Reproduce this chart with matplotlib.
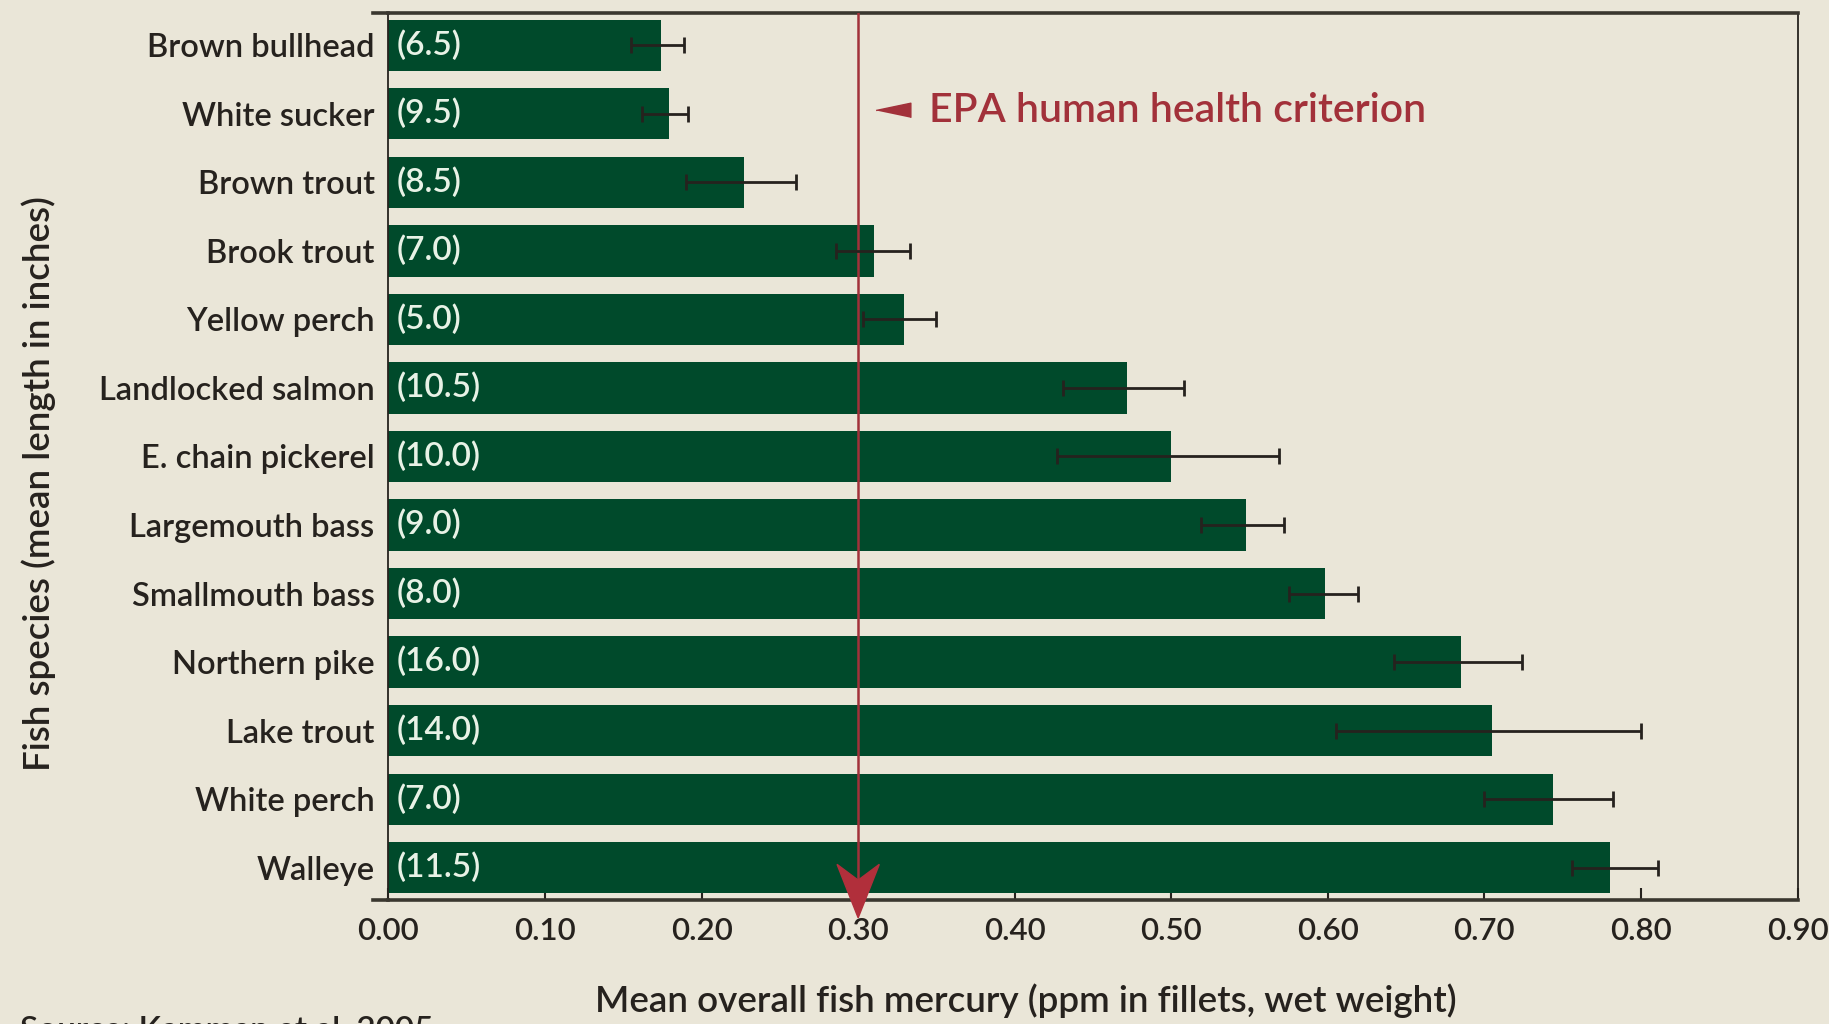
import matplotlib.pyplot as plt
from matplotlib.patches import Polygon
from matplotlib.lines import Line2D
import numpy as np

# Mean fish mercury by species (ppm, wet weight) with error bar ends
species = ["Brown bullhead", "White sucker", "Brown trout", "Brook trout",
           "Yellow perch", "Landlocked salmon", "E. chain pickerel",
           "Largemouth bass", "Smallmouth bass", "Northern pike",
           "Lake trout", "White perch", "Walleye"]
lengths = ["(6.5)", "(9.5)", "(8.5)", "(7.0)", "(5.0)", "(10.5)", "(10.0)",
           "(9.0)", "(8.0)", "(16.0)", "(14.0)", "(7.0)", "(11.5)"]
mercury = [0.174, 0.179, 0.227, 0.310, 0.329, 0.472, 0.500,
           0.548, 0.598, 0.685, 0.705, 0.744, 0.780]
err_low = [0.155, 0.162, 0.190, 0.286, 0.303, 0.431, 0.427,
           0.519, 0.575, 0.642, 0.605, 0.700, 0.756]
err_high = [0.189, 0.191, 0.260, 0.333, 0.350, 0.508, 0.569,
            0.572, 0.619, 0.724, 0.800, 0.782, 0.811]
criterion = 0.30
xticks = [0.0, 0.1, 0.2, 0.3, 0.4, 0.5, 0.6, 0.7, 0.8, 0.9]

BG = "#EAE6D8"
GREEN = "#004A2B"
RED = "#A2313A"
INK = "#26221E"
WT = "semibold"

plt.rcParams["font.family"] = ["Lato", "DejaVu Sans"]

fig = plt.figure(figsize=(18.29, 10.24), dpi=100, facecolor=BG)
ax = fig.add_axes([0.2124, 0.1211, 0.7704, 0.8662], facecolor=BG)

y = np.arange(len(species))
vals = np.array(mercury)
xerr = np.vstack([vals - np.array(err_low), np.array(err_high) - vals])

ax.barh(y, vals, height=0.75, color=GREEN, zorder=2)
ax.axvline(criterion, color=RED, lw=1.8, zorder=3)
ax.errorbar(vals, y, xerr=xerr, fmt="none", ecolor=INK, elinewidth=2,
            capsize=6, capthick=2, zorder=4)

for yi, lab in zip(y, lengths):
    ax.annotate(lab, (0, yi), xytext=(6, 0), textcoords="offset points",
                ha="left", va="center", fontsize=24, color="#E8F2E6",
                fontweight=WT, zorder=5)

ax.set_xlim(0, 0.9)
ax.set_ylim(12.47, -0.47)
ax.set_yticks(y)
ax.set_yticklabels(species, fontsize=23.5, color=INK, fontweight=WT)
ax.set_xticks(xticks)
ax.set_xticklabels([f"{t:.2f}" for t in xticks], fontsize=22.5, color=INK,
                   fontweight=WT)
ax.tick_params(axis="y", length=0, pad=10)
ax.tick_params(axis="x", direction="in", length=9, width=1.5, color=INK, pad=12)

for side in ["left", "right"]:
    ax.spines[side].set_linewidth(1.3)
    ax.spines[side].set_color(INK)
for side in ["top", "bottom"]:
    ax.spines[side].set_linewidth(2.6)
    ax.spines[side].set_color("#3A372F")
    yy = 1 if side == "top" else 0
    ax.add_line(Line2D([-0.011, 0], [yy, yy], transform=ax.transAxes,
                       color="#3A372F", lw=2.6, clip_on=False))

ax.set_xlabel("Mean overall fish mercury (ppm in fillets, wet weight)",
              fontsize=26.5, color=INK, fontweight=WT)
ax.xaxis.set_label_coords(0.452, -0.094)
ax.set_ylabel("Fish species (mean length in inches)", fontsize=26.5,
              color=INK, fontweight=WT)
ax.yaxis.set_label_coords(-0.236, 0.469)

# criterion arrowhead at the foot of the red line
c = criterion
head = Polygon([(c - 0.0135, 11.95), (c, 12.18), (c + 0.0135, 11.95),
                (c, 12.73)], closed=True, color="#B12F3B",
               clip_on=False, zorder=6)
ax.add_patch(head)

# criterion legend
ax.plot([c + 0.022], [0.95], marker=[(-1, 0), (1, 0.42), (1, -0.42)],
        markersize=25, color=RED, linestyle="none", clip_on=False, zorder=6)
ax.text(c + 0.045, 0.95, "EPA human health criterion", fontsize=29.5,
        color=RED, ha="left", va="center", fontweight=WT)

fig.text(0.011, 0.0075, "Source: Kamman et al. 2005", fontsize=24,
         color=INK, ha="left", va="top", fontweight=WT)

fig.savefig("out.png", dpi=100, facecolor=BG)
